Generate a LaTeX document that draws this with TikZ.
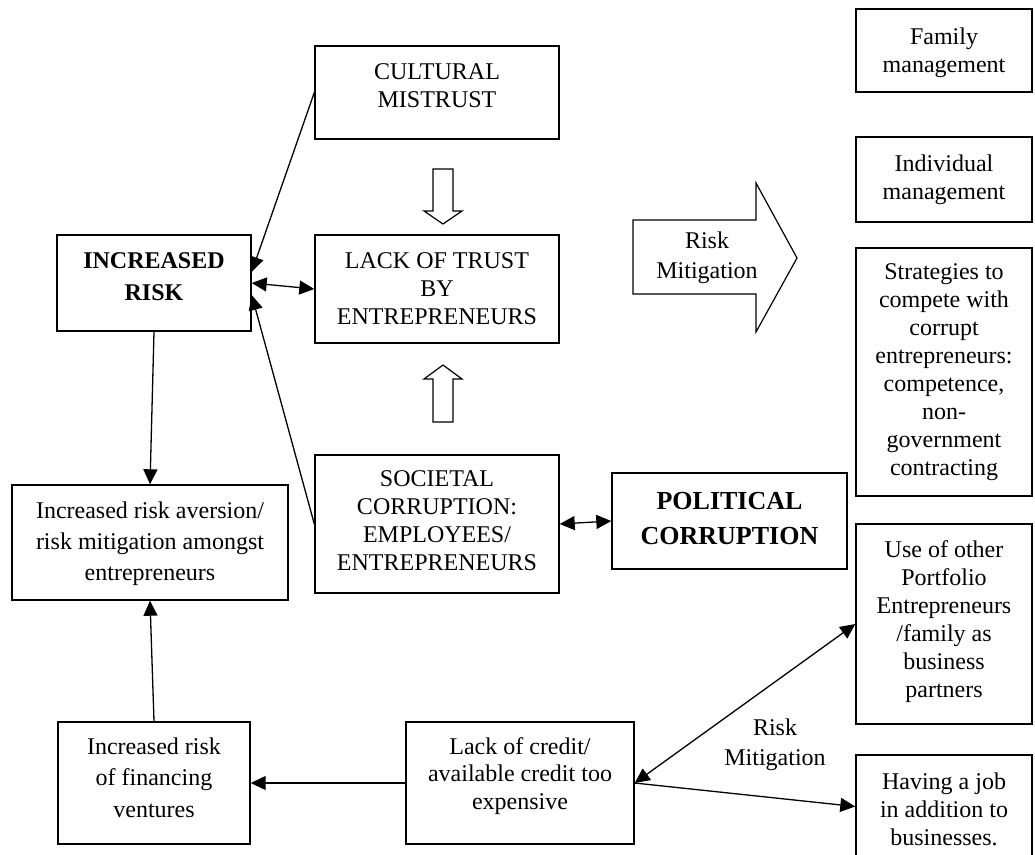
\documentclass[tikz,border=0pt]{standalone}
\usepackage{fontspec}
\setmainfont{Liberation Serif}
\usetikzlibrary{arrows.meta,calc}

\tikzset{
  box/.style={draw, line width=1.4pt, inner sep=0pt},
  lbl/.style={inner sep=0pt, anchor=north, align=center,
              font=\fontsize{24}{28}\selectfont},
  boldlbl/.style={lbl, font=\fontsize{24}{32}\selectfont\bfseries},
  hd/.tip={Triangle[length=15pt,width=14pt]},
  arr/.style={line width=1.3pt, -{hd}},
  darr/.style={line width=1.3pt, {hd}-{hd}},
  hollow/.style={draw, line width=1.2pt, fill=white, line join=miter}
}

\begin{document}
\begin{tikzpicture}[x=1pt, y=-1pt]
\useasboundingbox (0,0) rectangle (1035,854);
\clip (0,0) rectangle (1035,854);

% ---- central column ----
\node[box, minimum width=244pt, minimum height=93pt]  (cult) at (437,92.5) {};
\node[lbl] (cult-t) at (437,59.4) {\strut CULTURAL\\MISTRUST};

\node[box, minimum width=244pt, minimum height=108pt] (lack) at (437,289) {};
\node[lbl] (lack-t) at (437,248.4) {\strut LACK OF TRUST\\BY\\ENTREPRENEURS};

\node[box, minimum width=244pt, minimum height=138pt] (soc) at (437,524) {};
\node[lbl] (soc-t) at (437,466.4) {\strut SOCIETAL\\CORRUPTION:\\EMPLOYEES/\\ENTREPRENEURS};

% hollow block arrows between the central boxes
\path[hollow] (433,169) -- (453,169) -- (453,211) -- (462,211) -- (443,224)
              -- (424,211) -- (433,211) -- cycle;
\path[hollow] (433,422) -- (453,422) -- (453,379) -- (462,379) -- (443,365)
              -- (424,379) -- (433,379) -- cycle;

% ---- left column ----
\node[box, minimum width=194pt, minimum height=96pt]  (incr) at (154,283) {};
\node[boldlbl] (incr-t) at (154,245.6) {\strut INCREASED\\RISK};

\node[box, minimum width=276pt, minimum height=115pt] (aver) at (150,542.5) {};
\node[lbl, font=\fontsize{24}{31}\selectfont] (aver-t) at (150,496.3)
  {\strut Increased risk aversion/\\risk mitigation amongst\\entrepreneurs};

\node[box, minimum width=192pt, minimum height=122pt] (fin) at (154,783) {};
\node[lbl, font=\fontsize{24}{31.5}\selectfont] (fin-t) at (154,732)
  {\strut Increased risk\\of financing\\ventures};

\node[box, minimum width=228pt, minimum height=122pt] (cred) at (520,783) {};
\node[lbl, font=\fontsize{24}{27.5}\selectfont] (cred-t) at (520,734.8)
  {\strut Lack of credit/\\available credit too\\expensive};

% ---- political corruption ----
\node[box, minimum width=235pt, minimum height=96pt]  (pol) at (729.5,521) {};
\node[lbl, font=\fontsize{26}{35}\selectfont\bfseries] (pol-t) at (729.5,484.5)
  {\strut POLITICAL\\CORRUPTION};

% ---- risk mitigation block arrow ----
\path[hollow] (633,220) -- (756,220) -- (756,183) -- (797,258) -- (756,332)
              -- (756,294) -- (633,294) -- cycle;
\node[lbl, font=\fontsize{24}{30}\selectfont] (rm1) at (707,227) {\strut Risk\\Mitigation};

% ---- right column: mitigation strategies ----
\node[box, minimum width=176pt, minimum height=83pt]  (fam) at (944,50.5) {};
\node[lbl] (fam-t) at (944,24.4) {\strut Family\\management};

\node[box, minimum width=176pt, minimum height=85pt]  (ind) at (944,179.5) {};
\node[lbl] (ind-t) at (944,151.4) {\strut Individual\\management};

\node[box, minimum width=176pt, minimum height=248pt] (str) at (944,372) {};
\node[lbl] (str-t) at (944,259.4)
  {\strut Strategies to\\compete with\\corrupt\\entrepreneurs:\\competence,\\non-\\government\\contracting};

\node[box, minimum width=176pt, minimum height=200pt] (use) at (944,624) {};
\node[lbl] (use-t) at (944,537.4)
  {\strut Use of other\\Portfolio\\Entrepreneurs\\/family as\\business\\partners};

\node[box, minimum width=176pt, minimum height=103pt] (job) at (944,806.5) {};
\node[lbl] (job-t) at (944,769.4) {\strut Having a job\\in addition to\\businesses.};

\node[lbl, font=\fontsize{24}{30}\selectfont] (rm2) at (775,714) {\strut Risk\\Mitigation};

% ---- connectors ----
\draw[arr]  (cult.west) -- ([yshift=11pt]incr.east);
\draw[darr] (incr.east) -- (lack.west);
\draw[arr]  (soc.west) -- ([yshift=-12pt]incr.east);
\draw[darr] (soc.east) -- (pol.west);
\draw[arr]  (incr.south) -- (aver.north);
\draw[arr]  (fin.north) -- (aver.south);
\draw[arr]  (cred.west) -- (fin.east);
\draw[darr] (cred.east) -- (use.west);
\draw[arr]  (cred.east) -- (job.west);
\end{tikzpicture}
\end{document}
